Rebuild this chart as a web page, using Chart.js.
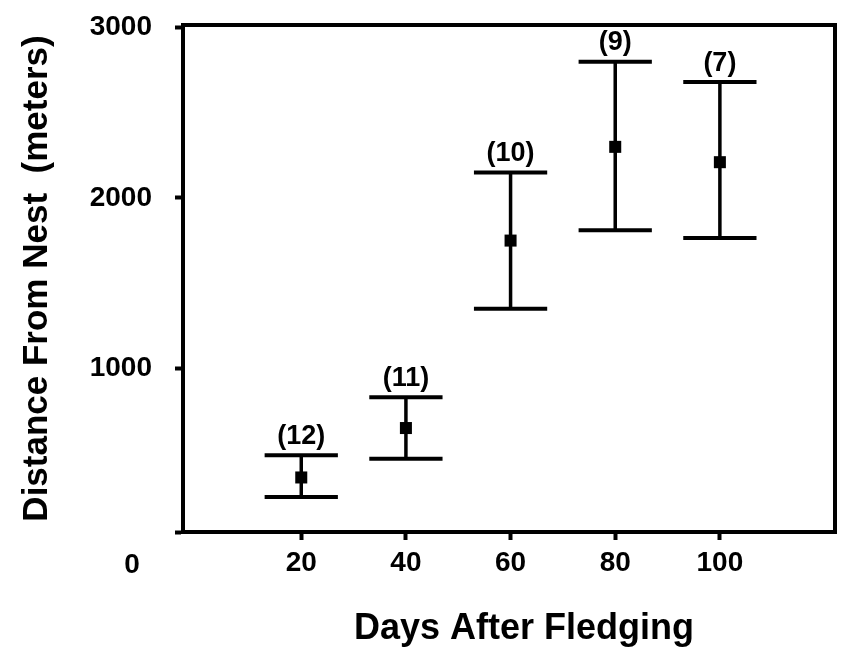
<!DOCTYPE html>
<html>
<head>
<meta charset="utf-8">
<script src="https://cdn.jsdelivr.net/npm/chart.js@4.4.1/dist/chart.umd.min.js"></script>
<style>
  html, body { margin: 0; padding: 0; background: #fff; }
  #wrap { width: 846px; height: 654px; }
</style>
</head>
<body>
<div id="wrap"><canvas id="chart" width="846" height="654"></canvas></div>
<script>
// Distance from nest vs. days after fledging
// mean (square), range bars, sample size above each bar

const days = [20, 40, 60, 80, 100];
const meanDist = [360, 650, 1750, 2300, 2210];
const upperDist = [490, 830, 2150, 2800, 2680];
const lowerDist = [245, 470, 1350, 1810, 1765];
const sampleSizes = [12, 11, 10, 9, 7];

const xTicks = [20, 40, 60, 80, 100];
const yTicks = [1000, 2000, 3000];
const yFloorLabel = '0';
const xTitle = 'Days After Fledging';
const yTitle = 'Distance From Nest  (meters)';

const FONT = "'Liberation Sans', Arial, Helvetica, sans-serif";
const CAP_HALF = 7; // half width of whisker caps (days)

const stems = days.map((d, i) => ({
    type: 'line',
    data: [{ x: d, y: lowerDist[i] }, { x: d, y: upperDist[i] }],
    borderColor: '#000',
    borderWidth: 3.5,
    borderCapStyle: 'butt',
    pointRadius: 0,
    order: 2
}));

const caps = days.flatMap((d, i) => [upperDist[i], lowerDist[i]].map(v => ({
    type: 'line',
    data: [{ x: d - CAP_HALF, y: v }, { x: d + CAP_HALF, y: v }],
    borderColor: '#000',
    borderWidth: 4,
    borderCapStyle: 'butt',
    pointRadius: 0,
    order: 2
})));

const means = {
    type: 'scatter',
    data: days.map((d, i) => ({ x: d, y: meanDist[i] })),
    pointStyle: 'rect',
    pointRadius: 8.5,
    backgroundColor: '#000',
    borderWidth: 0,
    order: 0
};

// top/right frame lines, n labels, corner "0" and the x title
const framePlugin = {
    id: 'frame',
    beforeDatasetsDraw(chart) {
        const { ctx, chartArea: a } = chart;
        ctx.save();
        ctx.strokeStyle = '#000';
        ctx.lineWidth = 4;
        ctx.lineCap = 'square';
        ctx.beginPath();
        ctx.moveTo(a.left, a.top);
        ctx.lineTo(a.right, a.top);
        ctx.lineTo(a.right, a.bottom);
        ctx.stroke();
        ctx.restore();
    },
    afterDatasetsDraw(chart) {
        const { ctx, chartArea: a, scales: { x, y } } = chart;
        ctx.save();
        ctx.fillStyle = '#000';
        ctx.textAlign = 'center';
        ctx.textBaseline = 'middle';
        ctx.font = `bold 27px ${FONT}`;
        days.forEach((d, i) => {
            ctx.fillText(`(${sampleSizes[i]})`, x.getPixelForValue(d), y.getPixelForValue(upperDist[i]) - 19);
        });
        ctx.font = `bold 28px ${FONT}`;
        ctx.fillText(yFloorLabel, a.left - 51, a.bottom + 33);
        ctx.font = `bold 36px ${FONT}`;
        ctx.fillText(xTitle, a.left + 341, a.bottom + 97);
        ctx.restore();
    }
};

const tickFont = { family: FONT, size: 28, weight: 'bold' };
const axisGrid = {
    drawOnChartArea: false,
    drawTicks: true,
    tickLength: 8,
    tickWidth: 4,
    tickColor: '#000',
    color: '#000'
};

new Chart(document.getElementById('chart'), {
    type: 'scatter',
    data: { datasets: [means, ...stems, ...caps] },
    options: {
        responsive: false,
        animation: false,
        devicePixelRatio: 1,
        layout: { padding: { left: 0, right: 11, top: 25, bottom: 0 } },
        plugins: {
            legend: { display: false },
            tooltip: { enabled: false }
        },
        scales: {
            x: {
                type: 'linear',
                min: -2.6,
                max: 122,
                afterBuildTicks: s => { s.ticks = xTicks.map(v => ({ value: v })); },
                afterFit: s => { s.height = 122; },
                ticks: { color: '#000', font: tickFont, padding: 6 },
                grid: axisGrid,
                border: { display: true, color: '#000', width: 4 }
            },
            y: {
                type: 'linear',
                min: 40,
                max: 3015,
                afterBuildTicks: s => { s.ticks = [40, ...yTicks].map(v => ({ value: v })); },
                afterFit: s => {
                    s.width = 183;
                    s.paddingTop = 0;
                    s.paddingBottom = 0;
                },
                ticks: {
                    color: '#000',
                    font: tickFont,
                    padding: 23,
                    callback: v => yTicks.includes(v) ? String(v) : ''
                },
                grid: axisGrid,
                border: { display: true, color: '#000', width: 4 },
                title: {
                    display: true,
                    text: yTitle,
                    color: '#000',
                    font: { family: FONT, size: 35, weight: 'bold', lineHeight: 1 },
                    padding: { top: 20, bottom: 0 }
                }
            }
        }
    },
    plugins: [framePlugin]
});
</script>
</body>
</html>
